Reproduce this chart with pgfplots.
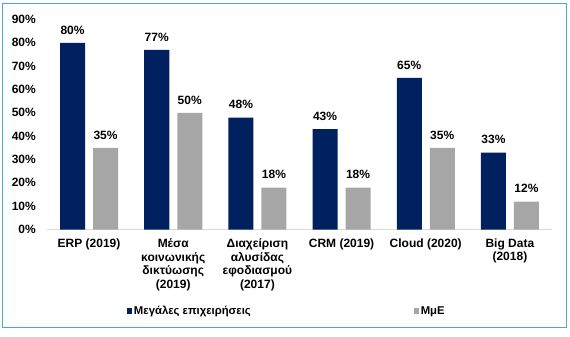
\documentclass[border=0pt]{standalone}
\usepackage{pgfplots}
\pgfplotsset{compat=1.18}
\usepackage{fontspec}
\setmainfont{Liberation Sans}
\definecolor{navy}{RGB}{0,32,96}
\definecolor{greybar}{RGB}{166,166,166}
\definecolor{frame}{RGB}{75,172,198}
\definecolor{axisgrey}{RGB}{217,217,217}
\newcommand{\lf}{\bfseries\fontsize{12}{13.5}\selectfont}
\newcommand{\legf}{\bfseries\fontsize{11.3}{13.5}\selectfont}
\begin{document}
\begin{tikzpicture}
\begin{axis}[
  at={(0pt,0pt)}, anchor=south west,
  scale only axis, width=505pt, height=210pt,
  ybar=8pt, bar width=25pt,
  xmin=-0.5, xmax=5.5, ymin=0, ymax=90,
  xtick={0,1,2,3,4,5},
  xticklabels={{ERP (2019)},{Μέσα\\κοινωνικής\\δικτύωσης\\(2019)},{Διαχείριση\\αλυσίδας\\εφοδιασμού\\(2017)},{CRM (2019)},{Cloud (2020)},{Big Data\\(2018)}},
  ytick={0,10,...,90},
  yticklabel={\pgfmathprintnumber{\tick}\%},
  /pgf/number format/assume math mode=true,
  ticklabel style={font=\lf},
  xticklabel style={align=center, anchor=north, inner sep=0pt, yshift=-9pt},
  yticklabel style={anchor=east, inner sep=0pt, xshift=-11pt},
  axis x line*=bottom, axis y line*=left,
  x axis line style={draw=axisgrey, line width=1pt, -},
  y axis line style={draw=none},
  major tick length=0pt,
  tick style={draw=none},
  nodes near coords={\pgfmathprintnumber{\pgfplotspointmeta}\%},
  every node near coord/.append style={font=\lf, text=black, inner sep=0pt, anchor=south, yshift=8.5pt},
  legend columns=2,
  legend image code/.code={\fill[#1] (0pt,-3pt) rectangle (5pt,3pt);},
  legend style={at={(axis description cs:0.1584,-0.388)}, anchor=west, draw=none, fill=none, font=\legf,
    inner sep=0pt, outer sep=0pt,
    /tikz/every even column/.append style={column sep=161pt}},
]
\addplot[fill=navy, draw=none] coordinates {(0,80) (1,77) (2,48) (3,43) (4,65) (5,33)};
\addplot[fill=greybar, draw=none] coordinates {(0,35) (1,50) (2,18) (3,18) (4,35) (5,12)};
\legend{Μεγάλες επιχειρήσεις, ΜμΕ}
\end{axis}
\pgfresetboundingbox
\path[use as bounding box] (-47pt,229.5pt) rectangle (523pt,-107.5pt);
\draw[frame, line width=1pt] (-44pt,225.5pt) rectangle (519pt,-97.5pt);
\end{tikzpicture}
\end{document}
